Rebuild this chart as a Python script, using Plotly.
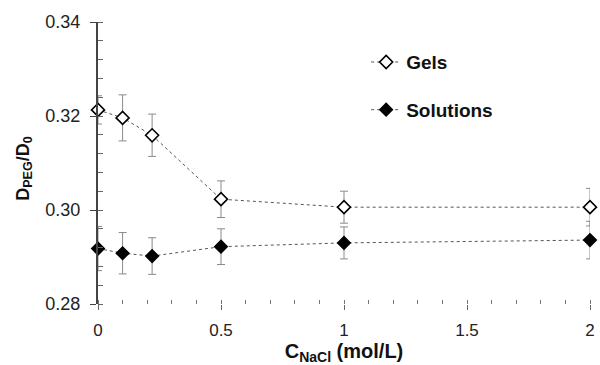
import plotly.graph_objects as go

# NaCl concentration (mol/L)
c_nacl = [0, 0.1, 0.22, 0.5, 1, 2]

# Normalised diffusion coefficient D_PEG/D_0
gels = [0.3213, 0.3196, 0.3159, 0.3023, 0.3006, 0.3006]
gels_err = [0.0030, 0.0049, 0.0045, 0.0039, 0.0034, 0.0040]

solutions = [0.2918, 0.2908, 0.2902, 0.2922, 0.2930, 0.2936]
solutions_err = [0.0047, 0.0044, 0.0039, 0.0038, 0.0034, 0.0040]

font_family = "Liberation Sans, Arial, sans-serif"
line_style = dict(color="#555555", width=1, dash="3px,3px")
err_style = dict(type="data", thickness=1, width=4, color="#8a8a8a")

fig = go.Figure()
fig.add_trace(go.Scatter(
    x=c_nacl, y=gels, name="Gels", mode="lines+markers",
    line=line_style,
    error_y=dict(array=gels_err, **err_style),
    marker=dict(symbol="diamond", size=10, color="white",
                line=dict(color="black", width=1.6)),
    legendgroup="g1",
))
fig.add_trace(go.Scatter(
    x=c_nacl, y=solutions, name="Solutions", mode="lines+markers",
    line=line_style,
    error_y=dict(array=solutions_err, **err_style),
    marker=dict(symbol="diamond", size=10, color="black",
                line=dict(color="black", width=1.2)),
    legendgroup="g2",
))

# y-axis title placed as a rotated annotation, slightly below the axis centre
fig.add_annotation(
    text="<b>D<sub>PEG</sub>/D<sub>0</sub></b>",
    xref="paper", yref="paper", x=-0.15, y=0.48,
    xanchor="center", yanchor="middle", textangle=-90, showarrow=False,
    font=dict(family=font_family, size=18, color="#111111"),
)

fig.update_layout(
    width=600, height=365,
    margin=dict(l=98, r=5, t=22, b=61),
    paper_bgcolor="white", plot_bgcolor="white",
    font=dict(family=font_family, size=15, color="#222222"),
    showlegend=True,
    legend=dict(
        x=0.545, y=0.925, xanchor="left", yanchor="top",
        bgcolor="rgba(0,0,0,0)",
        font=dict(family=font_family, size=19, color="#111111",
                  weight="bold"),
        tracegroupgap=20,
        itemwidth=30,
    ),
    xaxis=dict(
        range=[0, 2], tickvals=[0, 0.5, 1, 1.5, 2],
        ticktext=["0", "0.5", "1", "1.5", "2"],
        showgrid=False, zeroline=False, showline=False,
        ticks="outside", ticklen=5, tickcolor="#666666", tickwidth=1,
        ticklabelstandoff=6,
        minor=dict(dtick=0.1, ticks="inside", ticklen=4,
                   tickcolor="#777777", showgrid=False),
        tickfont=dict(size=17, color="#222222"),
        title=dict(text="<b>C<sub>NaCl</sub> (mol/L)</b>", standoff=6,
                   font=dict(size=20, color="#111111")),
    ),
    yaxis=dict(
        range=[0.28, 0.34], tickvals=[0.28, 0.30, 0.32, 0.34],
        ticktext=["0.28", "0.30", "0.32", "0.34"],
        showgrid=False, zeroline=False,
        showline=True, linecolor="#444444", linewidth=2,
        ticks="outside", ticklen=6, tickcolor="#444444", tickwidth=1,
        ticklabelstandoff=6,
        minor=dict(dtick=0.004, ticks="inside", ticklen=5,
                   tickcolor="#666666", showgrid=False),
        tickfont=dict(size=18, color="#222222"),
    ),
)
fig.update_traces(cliponaxis=False)

fig.write_html("out.html")
